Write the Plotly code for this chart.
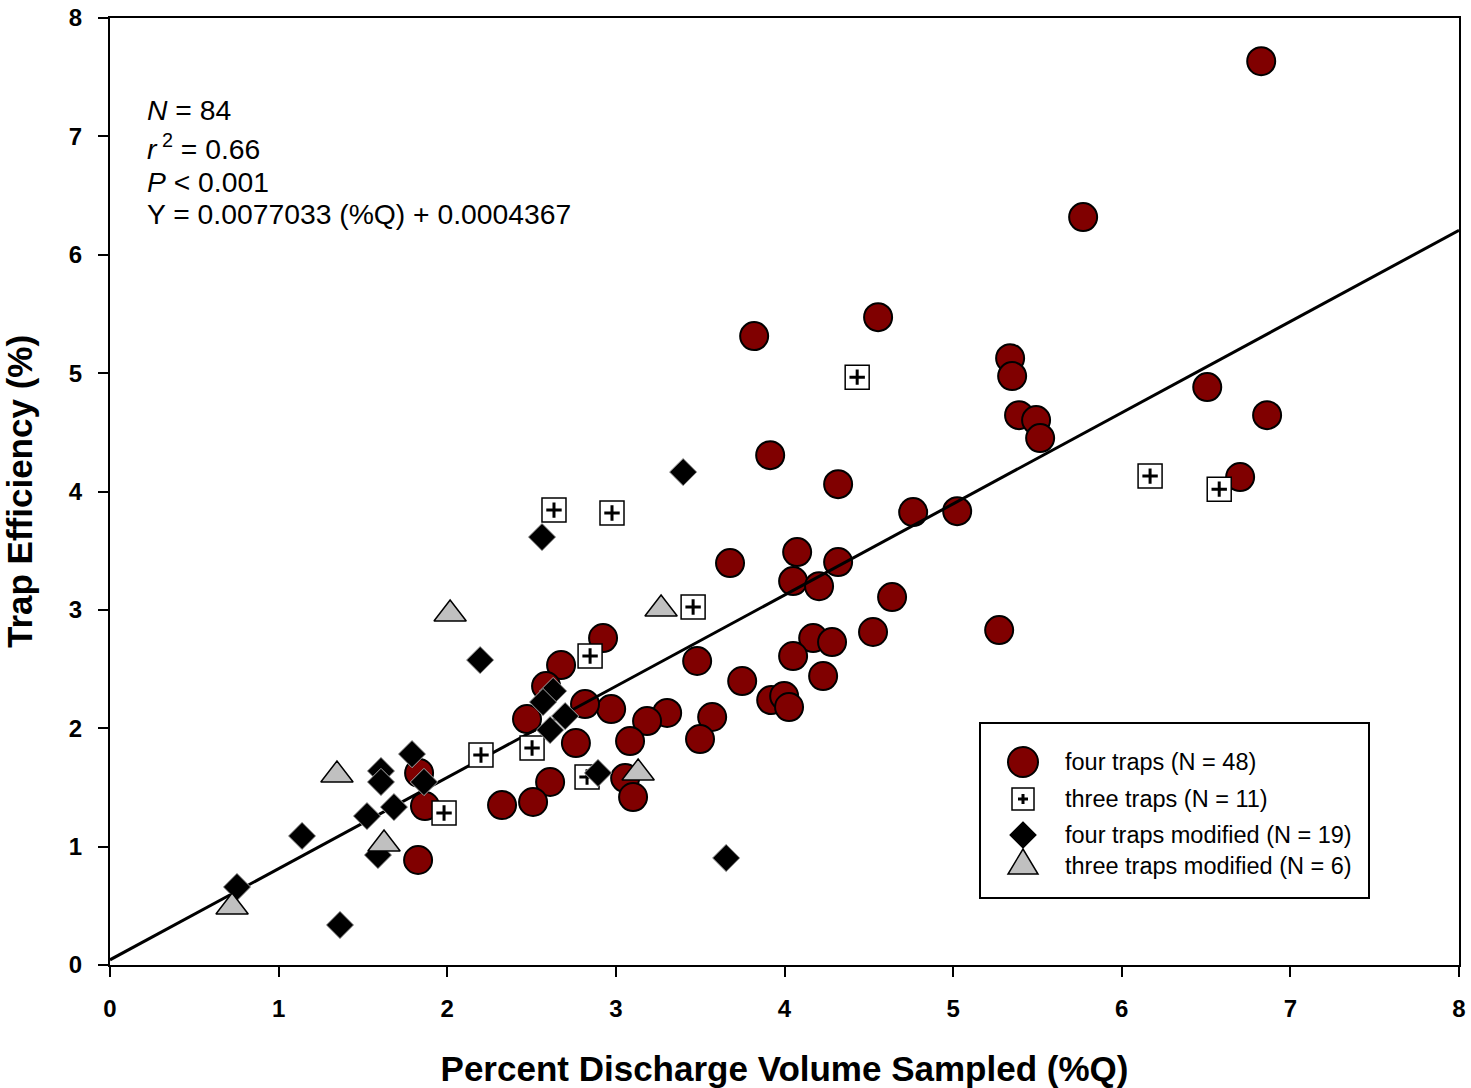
import plotly.graph_objects as go

# ---------------- data ----------------
four_x = [6.827, 5.771, 4.555, 3.820, 5.338, 5.350, 6.507, 6.862, 5.391, 5.492,
          5.516, 3.915, 4.318, 6.702, 4.763, 5.024, 3.677, 4.075, 4.051, 4.205,
          4.318, 4.638, 5.273, 4.525, 4.170, 4.282, 4.051, 4.229, 3.749, 3.482,
          3.921, 3.998, 4.027, 3.571, 3.499, 3.304, 3.185, 3.084, 2.972, 2.924,
          2.675, 2.586, 2.817, 2.473, 2.763, 2.610, 2.509, 2.325, 1.833, 1.868,
          1.827, 3.055, 3.102]
four_y = [7.635, 6.318, 5.473, 5.313, 5.126, 4.975, 4.882, 4.645, 4.645, 4.603,
          4.451, 4.307, 4.062, 4.122, 3.826, 3.834, 3.395, 3.488, 3.243, 3.200,
          3.404, 3.108, 2.829, 2.813, 2.762, 2.728, 2.610, 2.441, 2.399, 2.568,
          2.238, 2.272, 2.179, 2.095, 1.909, 2.129, 2.061, 1.892, 2.162, 2.762,
          2.534, 2.356, 2.204, 2.078, 1.875, 1.546, 1.377, 1.351, 1.622, 1.343,
          0.887, 1.579, 1.419]

three_x = [2.633, 2.977, 3.458, 2.847, 2.503, 2.200, 2.829, 4.431, 6.168, 6.578, 1.981]
three_y = [3.843, 3.818, 3.024, 2.610, 1.833, 1.774, 1.588, 4.966, 4.130, 4.020, 1.284]

fourmod_x = [3.399, 2.562, 2.195, 1.791, 1.607, 1.607, 1.862, 1.684, 1.524, 1.139,
             0.753, 1.364, 1.589, 2.628, 2.568, 2.699, 2.610, 2.894, 3.654]
fourmod_y = [4.164, 3.615, 2.576, 1.782, 1.639, 1.546, 1.546, 1.334, 1.258, 1.090,
             0.659, 0.338, 0.929, 2.314, 2.221, 2.103, 1.985, 1.622, 0.904]

threemod_x = [2.017, 3.268, 1.346, 1.625, 0.724, 3.132]
threemod_y = [2.965, 3.007, 1.605, 1.022, 0.490, 1.622]

slope = 0.77033      # percent units (0.0077033 as fraction)
intercept = 0.04367
line_x = [0, 8]
line_y = [slope * v + intercept for v in line_x]

x_ticks = [0, 1, 2, 3, 4, 5, 6, 7, 8]
y_ticks = [0, 1, 2, 3, 4, 5, 6, 7, 8]

stats_lines = ["<i>N</i> = 84", "<i>r</i><sup> 2</sup> = 0.66", "<i>P</i> < 0.001",
               "Y = 0.0077033 (%Q) + 0.0004367"]
legend_labels = ["four traps (N = 48)", "three traps (N = 11)",
                 "four traps modified (N = 19)", "three traps modified (N = 6)"]

# ---------------- style ----------------
FONT = "Liberation Sans, Arial, sans-serif"
MAROON = "#800000"
GRAY = "#c0c0c0"

fig = go.Figure()

fig.add_trace(go.Scatter(x=four_x, y=four_y, mode="markers", showlegend=False,
                         marker=dict(symbol="circle", size=28, color=MAROON,
                                     line=dict(color="black", width=2))))
fig.add_trace(go.Scatter(x=line_x, y=line_y, mode="lines", showlegend=False,
                         line=dict(color="black", width=3)))
fig.add_trace(go.Scatter(x=three_x, y=three_y, mode="markers", showlegend=False,
                         marker=dict(symbol="square", size=24, color="white",
                                     line=dict(color="black", width=1.5))))
fig.add_trace(go.Scatter(x=three_x, y=three_y, mode="markers", showlegend=False,
                         marker=dict(symbol="cross-thin", size=11, color="black",
                                     line=dict(color="black", width=3))))
fig.add_trace(go.Scatter(x=fourmod_x, y=fourmod_y, mode="markers", showlegend=False,
                         marker=dict(symbol="diamond", size=21, color="black",
                                     line=dict(color="#a8a8a8", width=1))))
fig.add_trace(go.Scatter(x=threemod_x, y=threemod_y, mode="markers", showlegend=False,
                         marker=dict(symbol="triangle-up", size=28, color=GRAY,
                                     line=dict(color="black", width=1.5))))

W, H = 1471, 1088
ML, MR, MT, MB = 110, 12, 18, 123
PW, PH = W - ML - MR, H - MT - MB


def px2paper_x(px):
    return (px - ML) / PW


def px2paper_y(py):
    return (H - MB - py) / PH


annotations = []
for txt, py in zip(stats_lines, [110, 147, 182, 214]):
    annotations.append(dict(text=txt, xref="paper", yref="paper",
                            x=px2paper_x(145), y=px2paper_y(py), xanchor="left",
                            yanchor="middle", showarrow=False,
                            font=dict(family=FONT, size=28.3, color="black")))

shapes = []
# legend box
shapes.append(dict(type="rect", xref="paper", yref="paper",
                   x0=px2paper_x(980), x1=px2paper_x(1369),
                   y0=px2paper_y(898), y1=px2paper_y(723),
                   line=dict(color="black", width=2), fillcolor="white", layer="above"))
sym_x = px2paper_x(1023)
rows_sym = [762, 799, 835, 862]
rows_txt = [762, 799, 835, 866]
common = dict(xref="paper", yref="paper", xsizemode="pixel", ysizemode="pixel",
              xanchor=sym_x, layer="above")
shapes.append(dict(type="circle", yanchor=px2paper_y(rows_sym[0]), x0=-15, x1=15, y0=-15, y1=15,
                   fillcolor=MAROON, line=dict(color="black", width=2), **common))
shapes.append(dict(type="rect", yanchor=px2paper_y(rows_sym[1]), x0=-11, x1=11, y0=-11, y1=11,
                   fillcolor="white", line=dict(color="black", width=1.5), **common))
shapes.append(dict(type="path", yanchor=px2paper_y(rows_sym[1]), path="M-5,0 L5,0 M0,-5 L0,5",
                   line=dict(color="black", width=3), **common))
shapes.append(dict(type="path", yanchor=px2paper_y(rows_sym[2]), path="M0,14 L14,0 L0,-14 L-14,0 Z",
                   fillcolor="black", line=dict(color="#a8a8a8", width=1), **common))
shapes.append(dict(type="path", yanchor=px2paper_y(rows_sym[3]), path="M-15,-12 L15,-12 L0,13 Z",
                   fillcolor=GRAY, line=dict(color="black", width=1.5), **common))
for txt, py in zip(legend_labels, rows_txt):
    annotations.append(dict(text=txt, xref="paper", yref="paper",
                            x=px2paper_x(1063), y=px2paper_y(py), xanchor="left",
                            yanchor="middle", showarrow=False,
                            font=dict(family=FONT, size=23.5, color="black")))

axis_common = dict(range=[0, 8], ticks="outside", ticklen=10, tickwidth=2,
                   tickcolor="black", showline=True, linecolor="black", linewidth=2,
                   mirror=True, showgrid=False, zeroline=False, automargin=False,
                   ticklabelstandoff=11,
                   tickfont=dict(family=FONT, size=24, color="black", weight="bold"))

fig.update_layout(
    width=W, height=H,
    margin=dict(l=ML, r=MR, t=MT, b=MB, pad=0, autoexpand=False),
    paper_bgcolor="white", plot_bgcolor="white",
    showlegend=False,
    xaxis=dict(**axis_common, tickvals=x_ticks,
               title=dict(text="Percent Discharge Volume Sampled (%Q)", standoff=47,
                          font=dict(family=FONT, size=35, color="black", weight="bold"))),
    yaxis=dict(**axis_common, tickvals=y_ticks,
               title=dict(text="Trap Efficiency (%)", standoff=32,
                          font=dict(family=FONT, size=35, color="black", weight="bold"))),
    annotations=annotations,
    shapes=shapes,
)

fig.write_html("out.html", config={"displayModeBar": False},
               post_script="document.body.style.margin='0';document.body.style.overflow='hidden';")
